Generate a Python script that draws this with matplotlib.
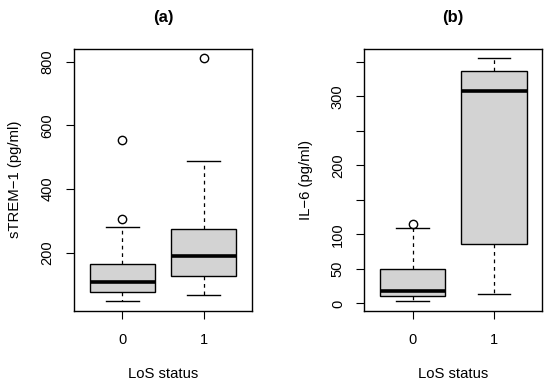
import matplotlib
matplotlib.use("Agg")
import matplotlib.pyplot as plt

plt.rcParams['font.family'] = ['Liberation Sans', 'DejaVu Sans']

groups = ["0", "1"]

# panel (a): sTREM-1
strem_low = [48, 69]
strem_q1 = [77, 126]
strem_med = [108, 190]
strem_q3 = [166, 276]
strem_high = [281, 488]
strem_out = [[307, 553], [810]]

# panel (b): IL-6
il6_low = [3, 13]
il6_q1 = [10.6, 86]
il6_med = [17.4, 307]
il6_q3 = [50, 336]
il6_high = [108.6, 355]
il6_out = [[115], []]


def make_stats(low, q1, med, q3, high, out):
    stats = []
    for i in range(len(groups)):
        stats.append(dict(whislo=low[i], q1=q1[i], med=med[i], q3=q3[i],
                          whishi=high[i], fliers=out[i]))
    return stats


def draw(ax, stats, title, ylabel, ylim, yticks, ylabels):
    ax.bxp(stats, positions=[1, 2], widths=0.8, patch_artist=True,
           boxprops=dict(facecolor='#d3d3d3', edgecolor='black', linewidth=1),
           medianprops=dict(color='black', linewidth=2.6),
           whiskerprops=dict(color='black', linestyle=(0, (3, 3)), linewidth=0.9),
           capprops=dict(color='black', linewidth=1),
           capwidths=0.4,
           flierprops=dict(marker='o', markerfacecolor='none',
                           markeredgecolor='black', markersize=6,
                           markeredgewidth=1))
    ax.set_xlim(0.408, 2.592)
    ax.set_ylim(*ylim)
    ax.set_xticks([1, 2])
    ax.set_xticklabels(groups, fontsize=10.5)
    ax.set_yticks(yticks)
    ax.set_yticklabels(ylabels, fontsize=10.5, rotation=90, va='center')
    ax.tick_params(length=5.5, width=0.8)
    ax.tick_params(axis='x', pad=10.5)
    ax.tick_params(axis='y', pad=8.5)
    for s in ax.spines.values():
        s.set_linewidth(1)
    ax.set_xlabel("LoS status", fontsize=10.7, labelpad=14)
    ax.set_ylabel(ylabel, fontsize=10.7, labelpad=13)
    ax.set_title(title, fontsize=12, fontweight='bold', pad=19)


fig = plt.figure(figsize=(5.5, 3.87), dpi=100)
ax1 = fig.add_axes([0.1345, 0.1964, 0.3236, 0.678])
ax2 = fig.add_axes([0.6624, 0.1964, 0.3236, 0.678])

draw(ax1, make_stats(strem_low, strem_q1, strem_med, strem_q3, strem_high, strem_out),
     "(a)", "sTREM\u22121 (pg/ml)", (17.5, 840.5),
     [200, 400, 600, 800], ["200", "400", "600", "800"])
draw(ax2, make_stats(il6_low, il6_q1, il6_med, il6_q3, il6_high, il6_out),
     "(b)", "IL\u22126 (pg/ml)", (-11, 369),
     [0, 50, 100, 150, 200, 250, 300, 350],
     ["0", "50", "100", "", "200", "", "300", ""])

fig.savefig("out.png", dpi=100)
